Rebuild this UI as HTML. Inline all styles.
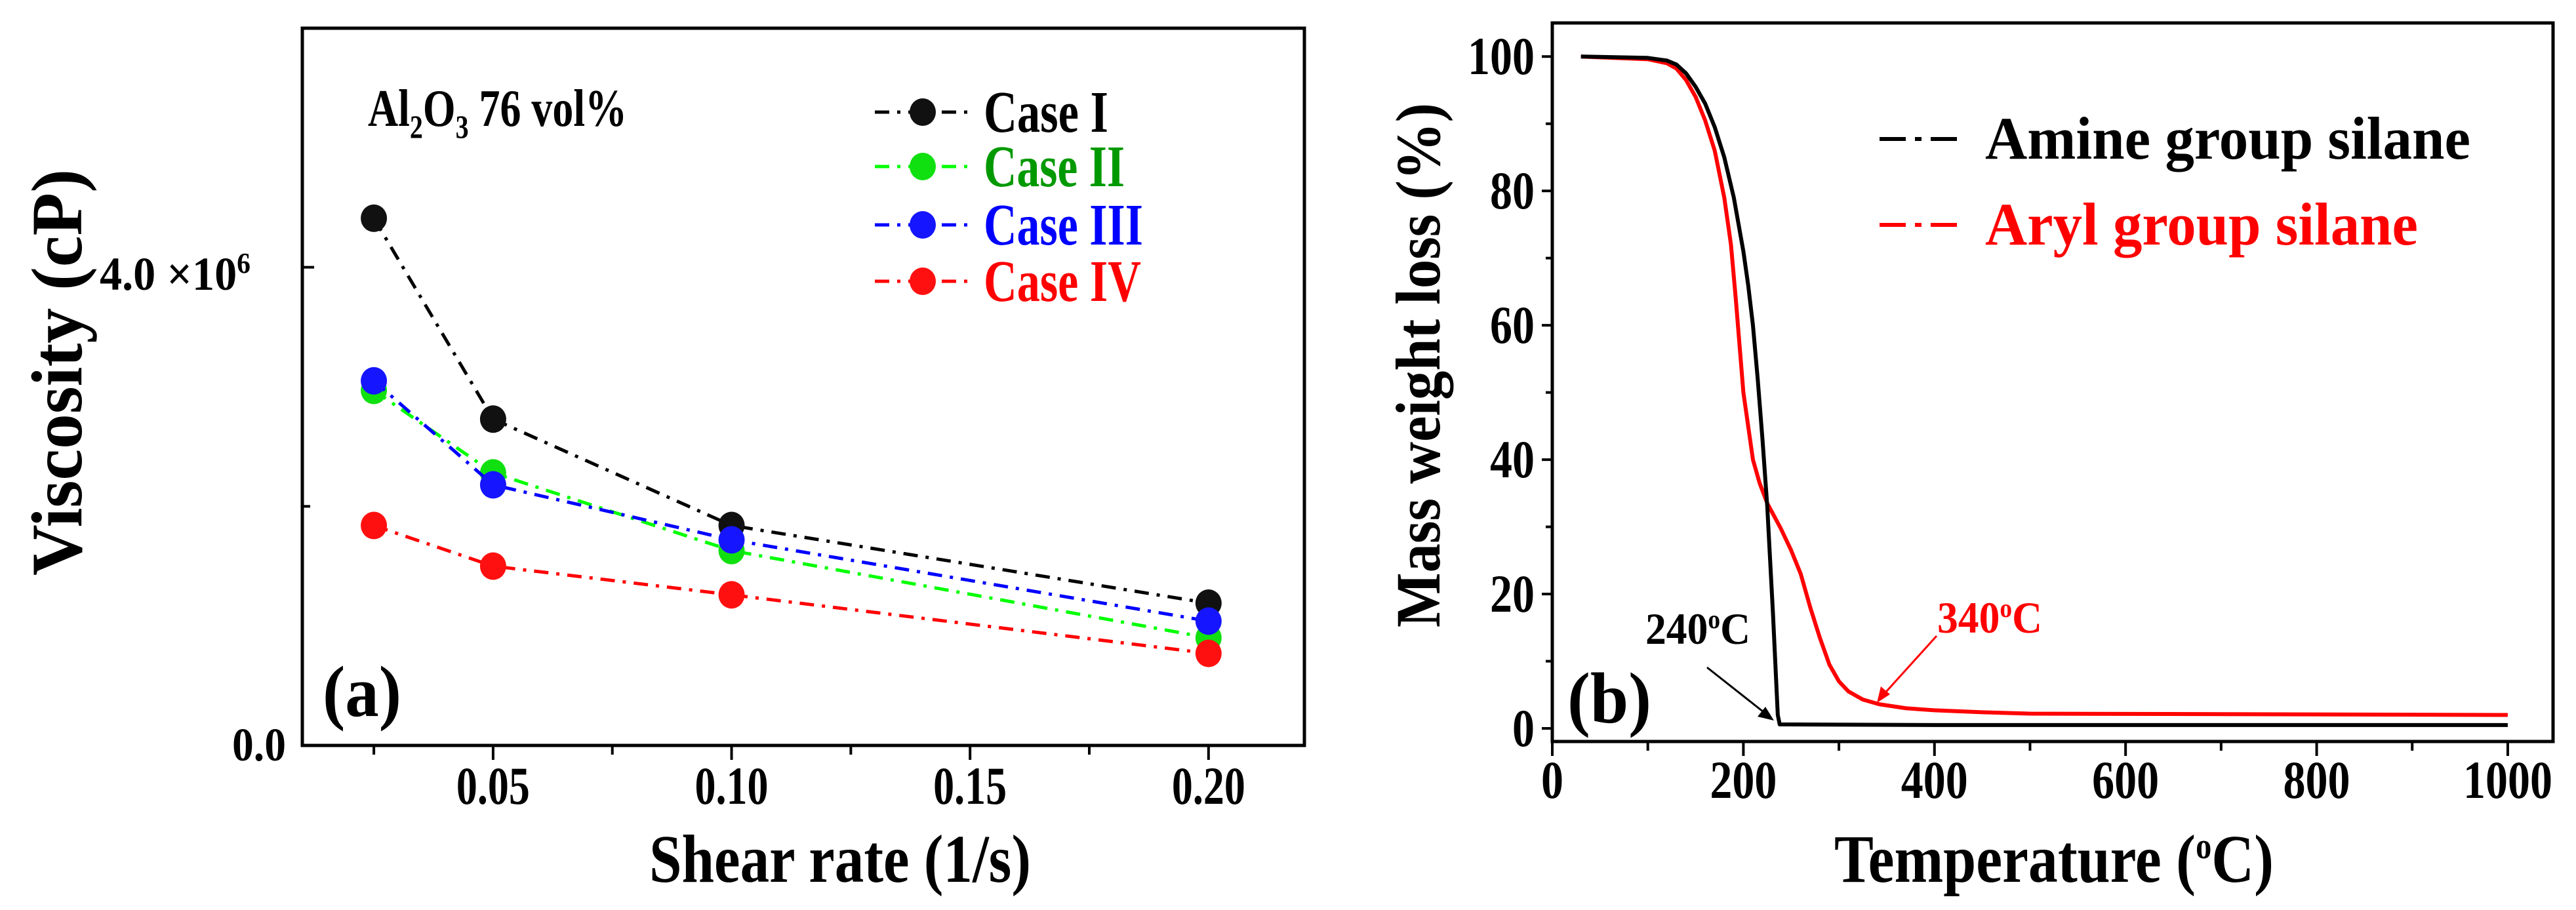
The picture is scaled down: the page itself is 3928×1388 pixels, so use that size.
<!DOCTYPE html>
<html><head><meta charset="utf-8"><style>
html,body{margin:0;padding:0;background:#fff}
svg{display:block}
text{font-family:"Liberation Serif",serif;font-weight:bold}
</style></head><body>
<svg id="fig" width="3928" height="1388" viewBox="0 0 3928 1388" xmlns="http://www.w3.org/2000/svg">
<g id="pa"></g>
<g id="pb"></g>
</svg>
<script>
// Panel (a) data
const shearRates = [0.025, 0.05, 0.10, 0.20];
const caseI   = [4.41e6, 2.73e6, 1.84e6, 1.19e6];
const caseII  = [2.97e6, 2.28e6, 1.63e6, 0.90e6];
const caseIII = [3.05e6, 2.18e6, 1.72e6, 1.04e6];
const caseIV  = [1.84e6, 1.50e6, 1.26e6, 0.77e6];
const xTicksA = [0.05, 0.10, 0.15, 0.20];
const xTickLabelsA = ["0.05", "0.10", "0.15", "0.20"];
// Panel (b) data
const tempAmine = [30, 100, 120, 130, 140, 150, 160, 170, 180, 190, 200, 205, 210, 215, 220, 225, 228, 231, 234, 236, 238, 400, 1000];
const massAmine = [100, 99.8, 99.4, 98.8, 97.5, 95.5, 93, 89.5, 85, 79, 71, 66, 60, 52, 43, 33, 25, 17, 8, 2, 0.6, 0.5, 0.5];
const tempAryl = [30, 100, 120, 130, 140, 150, 160, 170, 180, 187, 192, 196, 200, 205, 210, 217, 225, 239, 250, 260, 270, 280, 290, 300, 310, 325, 342, 370, 400, 450, 500, 1000];
const massAryl = [100, 99.6, 99, 98.2, 96.5, 94, 90.5, 86, 79, 72, 64, 57, 50, 45, 40, 36.5, 33.5, 29.8, 26.5, 23, 18, 13.5, 9.5, 7, 5.5, 4.3, 3.6, 3.0, 2.7, 2.4, 2.2, 2.0];
const xTicksB = [0, 200, 400, 600, 800, 1000];
const yTicksB = [0, 20, 40, 60, 80, 100];

const NS = "http://www.w3.org/2000/svg";
function mk(parent, tag, attrs, txt){
  const e = document.createElementNS(NS, tag);
  for (const k in attrs) e.setAttribute(k, attrs[k]);
  if (txt !== undefined) e.textContent = txt;
  parent.appendChild(e);
  return e;
}

// ---------- Panel A ----------
const pa = document.getElementById('pa');
const A = {l:461, r:1989, t:43, b:1137, x0:0.01, x1:0.2201, y0:0, y1:6e6};
const ax = v => A.l + (v - A.x0) / (A.x1 - A.x0) * (A.r - A.l);
const ay = v => A.b - (v - A.y0) / (A.y1 - A.y0) * (A.b - A.t);
let e;
e = mk(pa, 'rect', {x:A.l, y:A.t, width:A.r-A.l, height:A.b-A.t, fill:'none', stroke:'#000', 'stroke-width':5});


for (let v = 0.025; v <= 0.2001; v += 0.025) {
  const major = xTicksA.some(t => Math.abs(t - v) < 1e-9);
  e = mk(pa, 'line', {x1:ax(v), x2:ax(v), y1:A.b, y2:A.b + (major?22:14), stroke:'#000', 'stroke-width':4});
  
  
}
xTicksA.forEach((v, i) => {
  e = mk(pa, 'text', {x:ax(v), y:1226, 'font-size':82, 'text-anchor':'middle', textLength:112, lengthAdjust:'spacingAndGlyphs'}, xTickLabelsA[i]);
  
  
});
[0, 2e6, 4e6].forEach(v => {
  e = mk(pa, 'line', {x1:A.l, x2:A.l + (v === 2e6 ? 12 : 18), y1:ay(v), y2:ay(v), stroke:'#000', 'stroke-width':4});
  
  
});
e = mk(pa, 'text', {x:436, y:1160, 'font-size':72, 'text-anchor':'end', textLength:82, lengthAdjust:'spacingAndGlyphs'}, '0.0');


e = mk(pa, 'text', {x:152, y:442, 'font-size':72, textLength:230, lengthAdjust:'spacingAndGlyphs'});


e.innerHTML = '4.0 ×10<tspan dy="-26" font-size="44">6</tspan>';
e = mk(pa, 'text', {x:0, y:0, 'font-size':110, 'text-anchor':'middle', transform:'translate(124,568) rotate(-90)', textLength:620, lengthAdjust:'spacingAndGlyphs'}, 'Viscosity (cP)');


e = mk(pa, 'text', {x:1281, y:1345, 'font-size':104, 'text-anchor':'middle', textLength:582, lengthAdjust:'spacingAndGlyphs'}, 'Shear rate (1/s)');


e = mk(pa, 'text', {x:561, y:192, 'font-size':80, textLength:395, lengthAdjust:'spacingAndGlyphs'});


e.innerHTML = 'Al<tspan dy="18" font-size="50">2</tspan><tspan dy="-18">O</tspan><tspan dy="18" font-size="50">3</tspan><tspan dy="-18"> 76 vol%</tspan>';
e = mk(pa, 'text', {x:492, y:1092, 'font-size':110, textLength:120, lengthAdjust:'spacingAndGlyphs'}, '(a)');



const seriesA = [
  {name:'Case I', vals:caseI, c:'#000', fill:'#111', tc:'#000', ly:171, w:190},
  {name:'Case II', vals:caseII, c:'#00ff00', fill:'#10e010', tc:'#009900', ly:254, w:215},
  {name:'Case III', vals:caseIII, c:'#0000ff', fill:'#1515ff', tc:'#0000ff', ly:343, w:243},
  {name:'Case IV', vals:caseIV, c:'#ff0000', fill:'#ff1010', tc:'#ff0000', ly:429, w:240}
];
seriesA.forEach(s => {
  const pts = shearRates.map((x, i) => ax(x) + ',' + ay(s.vals[i])).join(' ');
  e = mk(pa, 'polyline', {points:pts, fill:'none', stroke:s.c, 'stroke-width':5, 'stroke-dasharray':'22 12 5 12'});
  
  
  shearRates.forEach((x, i) => {
    e = mk(pa, 'ellipse', {cx:ax(x), cy:ay(s.vals[i]), rx:20, ry:21, fill:s.fill});
    
    
  });
  e = mk(pa, 'line', {x1:1334, x2:1478, y1:s.ly, y2:s.ly, stroke:s.c, 'stroke-width':5, 'stroke-dasharray':'22 12 5 12'});
  
  
  e = mk(pa, 'ellipse', {cx:1407, cy:s.ly, rx:20, ry:21, fill:s.fill});
  
  
  e = mk(pa, 'text', {x:1500, y:s.ly + 30, 'font-size':90, fill:s.tc, textLength:s.w, lengthAdjust:'spacingAndGlyphs'}, s.name);
  
  
});

// ---------- Panel B ----------
const pb = document.getElementById('pb');
const B = {l:2367, r:3893, t:35, b:1131, x0:0, x1:1047.4, y0:-1.95, y1:105};
const bx = v => B.l + (v - B.x0) / (B.x1 - B.x0) * (B.r - B.l);
const by = v => B.b - (v - B.y0) / (B.y1 - B.y0) * (B.b - B.t);
e = mk(pb, 'rect', {x:B.l, y:B.t, width:B.r-B.l, height:B.b-B.t, fill:'none', stroke:'#000', 'stroke-width':5});


for (let v = 0; v <= 1000; v += 100) {
  const major = v % 200 === 0;
  e = mk(pb, 'line', {x1:bx(v), x2:bx(v), y1:B.b, y2:B.b + (major?22:14), stroke:'#000', 'stroke-width':4});
  
  
}
xTicksB.forEach(v => {
  e = mk(pb, 'text', {x:bx(v), y:1217, 'font-size':82, 'text-anchor':'middle', textLength:String(v).length*34, lengthAdjust:'spacingAndGlyphs'}, String(v));
  
  
});
for (let v = 0; v <= 100; v += 10) {
  const major = v % 20 === 0;
  e = mk(pb, 'line', {x1:B.l - (major?16:10), x2:B.l, y1:by(v), y2:by(v), stroke:'#000', 'stroke-width':4});
  
  
}
yTicksB.forEach(v => {
  e = mk(pb, 'text', {x:2340, y:by(v) + 27, 'font-size':82, 'text-anchor':'end', textLength:String(v).length*34, lengthAdjust:'spacingAndGlyphs'}, String(v));
  
  
});
e = mk(pb, 'text', {x:0, y:0, 'font-size':96, 'text-anchor':'middle', transform:'translate(2195,557) rotate(-90)', textLength:800, lengthAdjust:'spacingAndGlyphs'}, 'Mass weight loss (%)');


e = mk(pb, 'text', {x:3132, y:1345, 'font-size':104, 'text-anchor':'middle', textLength:670, lengthAdjust:'spacingAndGlyphs'});


e.innerHTML = 'Temperature (<tspan dy="-36" font-size="56">o</tspan><tspan dy="36">C)</tspan>';

e = mk(pb, 'polyline', {points:tempAryl.map((t, i) => bx(t) + ',' + by(massAryl[i])).join(' '), fill:'none', stroke:'#ff0000', 'stroke-width':6, 'stroke-linejoin':'round'});


e = mk(pb, 'polyline', {points:tempAmine.map((t, i) => bx(t) + ',' + by(massAmine[i])).join(' '), fill:'none', stroke:'#000', 'stroke-width':6, 'stroke-linejoin':'round'});



[{n:'Amine group silane', c:'#000', y:212, w:740}, {n:'Aryl group silane', c:'#ff0000', y:343, w:660}].forEach(s => {
  e = mk(pb, 'line', {x1:2866, x2:2991, y1:s.y, y2:s.y, stroke:s.c, 'stroke-width':6, 'stroke-dasharray':'40 14 10 14'});
  
  
  e = mk(pb, 'text', {x:3027, y:s.y + 30, 'font-size':92, fill:s.c, textLength:s.w, lengthAdjust:'spacingAndGlyphs'}, s.n);
  
  
});
e = mk(pb, 'text', {x:2509, y:982, 'font-size':68, textLength:160, lengthAdjust:'spacingAndGlyphs'});


e.innerHTML = '240<tspan dy="-24" font-size="40">o</tspan><tspan dy="24">C</tspan>';
e = mk(pb, 'line', {x1:2603, y1:1018, x2:2698, y2:1093, stroke:'#000', 'stroke-width':3});


e = mk(pb, 'polygon', {points:'2705,1099 2680,1093 2692,1078', fill:'#000'});


e = mk(pb, 'text', {x:2954, y:965, 'font-size':68, fill:'#ff0000', textLength:160, lengthAdjust:'spacingAndGlyphs'});


e.innerHTML = '340<tspan dy="-24" font-size="40">o</tspan><tspan dy="24">C</tspan>';
e = mk(pb, 'line', {x1:2953, y1:970, x2:2868, y2:1064, stroke:'#ff0000', 'stroke-width':3});


e = mk(pb, 'polygon', {points:'2862,1072 2868,1047 2882,1059', fill:'#ff0000'});


e = mk(pb, 'text', {x:2390, y:1102, 'font-size':110, textLength:128, lengthAdjust:'spacingAndGlyphs'}, '(b)');


</script>
</body></html>
